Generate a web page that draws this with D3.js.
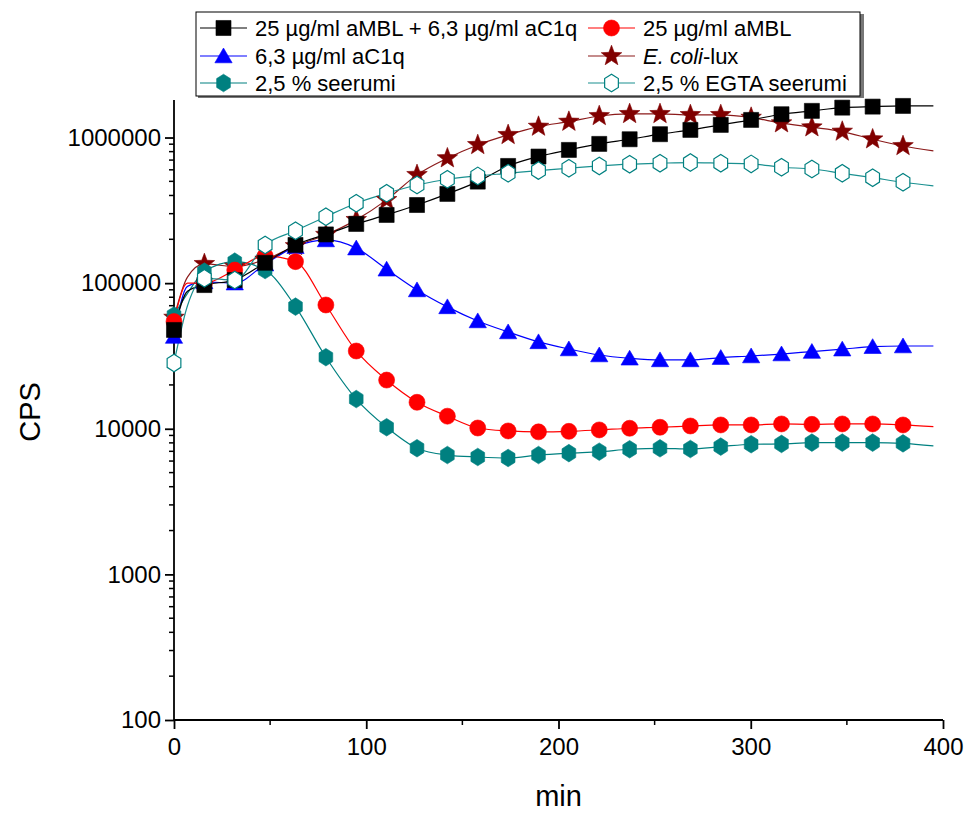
<!DOCTYPE html>
<html>
<head>
<meta charset="utf-8">
<script src="https://cdn.jsdelivr.net/npm/d3@7"></script>
<style>
  html, body { margin: 0; padding: 0; background: #fff; }
  text { font-family: "Liberation Sans", Arial, sans-serif; }
</style>
</head>
<body>
<svg id="chart" width="966" height="814"></svg>
<script>
// ---- data ----
const times = [0, 15.8, 31.6, 47.4, 63.2, 79, 94.8, 110.6, 126.4, 142.2, 158, 173.8, 189.6,
  205.4, 221.2, 237, 252.8, 268.6, 284.4, 300.2, 316, 331.8, 347.6, 363.4, 379.2, 395];
const markerCount = 25;      // last time point is line only
const earlyTime = 7;         // extra line-only reading on the steep start

const seriesNames = ["25 µg/ml aMBL + 6,3 µg/ml aC1q", "25 µg/ml aMBL", "6,3 µg/ml aC1q",
  "E. coli-lux", "2,5 % seerumi", "2,5 % EGTA seerumi"];

const mblC1q = [47700, 97000, 105000, 138000, 183000, 216000, 255000, 294000, 344000, 410000, 498000,
  638000, 740000, 822000, 904000, 973000, 1054000, 1128000, 1221000, 1321000, 1445000, 1524000,
  1604000, 1630000, 1648000, 1650000];
const mbl = [54500, 100000, 123000, 154000, 140500, 70800, 34200, 21600, 15200, 12200, 10120,
  9660, 9520, 9600, 9820, 10080, 10240, 10450, 10620, 10620, 10790, 10720, 10790, 10790, 10620, 10330];
const c1q = [43000, 102000, 100000, 135000, 178000, 198000, 174000, 124600, 89800, 68700, 55000,
  46200, 39500, 35300, 32100, 30500, 29700, 29700, 30800, 31600, 32600, 33900, 35200, 36600, 37000, 37000];
const ecoli = [58000, 135500, 130000, 145000, 180000, 215000, 272000, 373000, 554000, 721000, 889000,
  1042000, 1188000, 1285000, 1406000, 1452000, 1452000, 1429000, 1429000, 1370000, 1254000, 1177000,
  1099000, 973000, 875000, 809000];
const serum = [60000, 120000, 140500, 123000, 69000, 31000, 16000, 10240, 7350, 6600, 6400,
  6300, 6600, 6800, 6960, 7230, 7340, 7260, 7540, 7830, 7870, 8030, 8030, 8030, 7940, 7620];
const egtaSerum = [28300, 108000, 105000, 183000, 229000, 286000, 354000, 414000, 472000, 517000, 545000,
  568000, 593000, 615000, 638000, 656000, 666000, 673000, 666000, 659000, 625000, 608000, 568000,
  530000, 493000, 465000];
// values on the steep rise at earlyTime, same series order
const earlyValues = [88000, 100000, 95000, 110000, 85000, 70000];

const xTicks = [0, 100, 200, 300, 400];
const xMinorTicks = [50, 150, 250, 350];
const yTicks = [100, 1000, 10000, 100000, 1000000];

// ---- styling ----
const series = [
  { name: seriesNames[0], values: mblC1q, early: earlyValues[0], color: "#000000", line: "#000000", shape: "square", fill: "#000000" },
  { name: seriesNames[1], values: mbl, early: earlyValues[1], color: "#ff0000", line: "#ff0000", shape: "circle", fill: "#ff0000" },
  { name: seriesNames[2], values: c1q, early: earlyValues[2], color: "#0000ff", line: "#0000ff", shape: "triangle", fill: "#0000ff" },
  { name: seriesNames[3], values: ecoli, early: earlyValues[3], color: "#800000", line: "#8b1a1a", shape: "star", fill: "#800000" },
  { name: seriesNames[4], values: serum, early: earlyValues[4], color: "#008080", line: "#008080", shape: "hexagon", fill: "#008080" },
  { name: seriesNames[5], values: egtaSerum, early: earlyValues[5], color: "#008080", line: "#1a9090", shape: "hexagon", fill: "#ffffff" }
];
const drawOrder = [3, 2, 4, 1, 0, 5];

const svg = d3.select("#chart");
const x = d3.scaleLinear().domain([0, 400]).range([174, 943]);
const y = d3.scaleLog().domain([100, 1.81e6]).range([720, 100]);

function shapePath(shape, s) {
  if (shape === "square") { const h = s * 0.47; return `M${-h},${-h}H${h}V${h}H${-h}Z`; }
  if (shape === "circle") { const r = s * 0.5; return `M${r},0A${r},${r} 0 1,1 ${-r},0A${r},${r} 0 1,1 ${r},0Z`; }
  if (shape === "triangle") { const h = s * 0.5; return `M0,${-h}L${h * 1.08},${h * 0.85}L${-h * 1.08},${h * 0.85}Z`; }
  if (shape === "hexagon") {
    const r = s * 0.55; let p = "";
    for (let i = 0; i < 6; i++) { const a = Math.PI / 2 + i * Math.PI / 3; p += (i ? "L" : "M") + (r * Math.cos(a) * 0.9).toFixed(2) + "," + (r * Math.sin(a)).toFixed(2); }
    return p + "Z";
  }
  if (shape === "star") {
    const R = s * 0.6, r = R * 0.42; let p = "";
    for (let i = 0; i < 10; i++) { const a = -Math.PI / 2 + i * Math.PI / 5; const rr = i % 2 ? r : R; p += (i ? "L" : "M") + (rr * Math.cos(a)).toFixed(2) + "," + (rr * Math.sin(a)).toFixed(2); }
    return p + "Z";
  }
}
const markerSize = 16;

// ---- axes ----
const axisG = svg.append("g");
const yAxis = d3.axisLeft(y).tickValues(yTicks).tickFormat(d3.format("d")).tickSize(9).tickPadding(4);
const yG = axisG.append("g").attr("transform", `translate(${x(0)},0)`).call(yAxis);
const yMinor = [];
for (let e = 2; e <= 6; e++) for (let m = 2; m <= 9; m++) { const v = m * Math.pow(10, e); if (v <= 1.81e6) yMinor.push(v); }
axisG.append("g").selectAll("line").data(yMinor).join("line")
  .attr("x1", x(0) - 5).attr("x2", x(0)).attr("y1", d => y(d)).attr("y2", d => y(d))
  .attr("stroke", "#000").attr("stroke-width", 1.5);

const xAxis = d3.axisBottom(x).tickValues(xTicks).tickFormat(d3.format("d")).tickSize(9).tickPadding(9);
const xG = axisG.append("g").attr("transform", `translate(0,${y(100)})`).call(xAxis);
axisG.append("g").selectAll("line").data(xMinorTicks).join("line")
  .attr("x1", d => x(d)).attr("x2", d => x(d)).attr("y1", y(100)).attr("y2", y(100) + 5)
  .attr("stroke", "#000").attr("stroke-width", 1.5);

[yG, xG].forEach(g => {
  g.select(".domain").attr("stroke-width", 1.8).attr("d", null);
  g.selectAll(".tick line").attr("stroke-width", 1.8);
  g.selectAll(".tick text").attr("font-size", 24).attr("font-family", "Liberation Sans, Arial, sans-serif").attr("fill", "#000");
});
yG.select(".domain").attr("d", `M0,${y(100)}V${y(1.81e6)}`);
xG.select(".domain").attr("d", `M${x(0)},0H${x(400)}`);

svg.append("text").attr("transform", `translate(40,${412}) rotate(-90)`).attr("text-anchor", "middle")
  .attr("font-size", 29).text("CPS");
svg.append("text").attr("x", x(200)).attr("y", 806).attr("text-anchor", "middle")
  .attr("font-size", 29).text("min");

// ---- lines and markers ----
const line = d3.line().x(d => x(d[0])).y(d => y(d[1])).curve(d3.curveMonotoneX);
const plotG = svg.append("g");
drawOrder.forEach(i => {
  const s = series[i];
  const pts = times.map((t, k) => [t, s.values[k]]);
  const linePts = [pts[0], [earlyTime, s.early], ...pts.slice(1)];
  plotG.append("path").attr("d", line(linePts)).attr("fill", "none")
    .attr("stroke", s.line).attr("stroke-width", 1.2);
});
drawOrder.forEach(i => {
  const s = series[i];
  const pts = times.slice(0, markerCount).map((t, k) => [t, s.values[k]]);
  plotG.append("g").selectAll("path").data(pts).join("path")
    .attr("transform", d => `translate(${x(d[0])},${y(d[1])})`)
    .attr("d", shapePath(s.shape, s.shape === "star" ? 18 : markerSize))
    .attr("fill", s.fill)
    .attr("stroke", s.color).attr("stroke-width", s.fill === "#ffffff" ? 1.2 : 0.6);
});

// ---- legend ----
const leg = svg.append("g");
leg.append("rect").attr("x", 198).attr("y", 14).attr("width", 666).attr("height", 84).attr("fill", "#777");
leg.append("rect").attr("x", 196).attr("y", 12).attr("width", 664).attr("height", 84)
  .attr("fill", "#fff").attr("stroke", "#000").attr("stroke-width", 1);
const legPos = [[200, 28], [588, 28], [200, 56], [588, 56], [200, 83], [588, 83]];
series.forEach((s, i) => {
  const [lx, ly] = legPos[i];
  const g = leg.append("g");
  g.append("line").attr("x1", lx).attr("x2", lx + 47).attr("y1", ly).attr("y2", ly)
    .attr("stroke", s.line).attr("stroke-width", 1.2);
  g.append("path").attr("transform", `translate(${lx + 23.5},${ly})`)
    .attr("d", shapePath(s.shape, s.shape === "star" ? 18 : markerSize))
    .attr("fill", s.fill).attr("stroke", s.color).attr("stroke-width", s.fill === "#ffffff" ? 1.2 : 0.6);
  const t = g.append("text").attr("x", lx + 55).attr("y", ly + 8).attr("font-size", 22);
  if (i === 3) {
    t.append("tspan").attr("font-style", "italic").text("E. coli");
    t.append("tspan").text("-lux");
  } else {
    t.text(s.name);
  }
});
</script>
</body>
</html>
